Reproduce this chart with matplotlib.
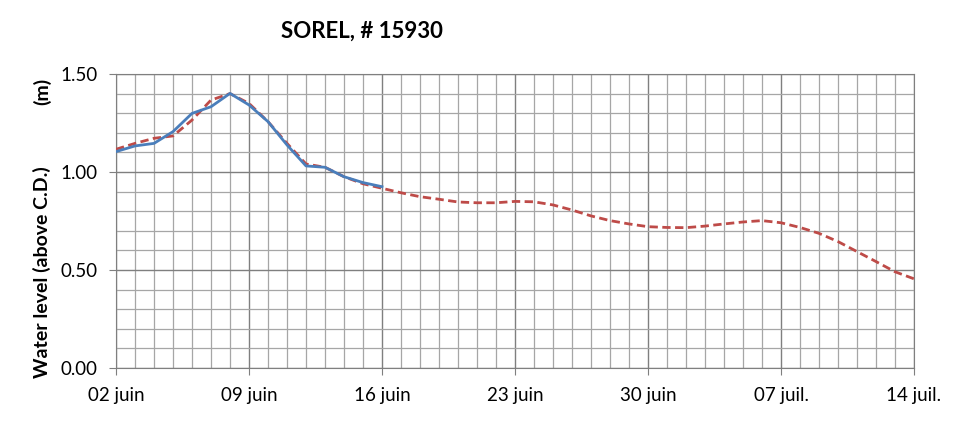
import matplotlib
matplotlib.use('Agg')
from matplotlib import pyplot as plt
from matplotlib.ticker import MultipleLocator

# days since 02 juin
obs_days = list(range(0, 15))
obs_level = [1.104, 1.133, 1.146, 1.206, 1.299, 1.333, 1.401, 1.342, 1.257,
             1.138, 1.031, 1.024, 0.976, 0.946, 0.925]

fc_days = list(range(0, 43))
fc_level = [1.116, 1.146, 1.172, 1.184, 1.265, 1.367, 1.400, 1.350, 1.257,
            1.146, 1.041, 1.024, 0.976, 0.940, 0.917, 0.894, 0.874, 0.861,
            0.847, 0.843, 0.843, 0.850, 0.848, 0.832, 0.806, 0.776, 0.752,
            0.735, 0.721, 0.717, 0.716, 0.724, 0.735, 0.745, 0.752, 0.741,
            0.717, 0.687, 0.645, 0.594, 0.543, 0.491, 0.455]

tick_days = [0, 7, 14, 21, 28, 35, 42]
tick_labels = ['02 juin', '09 juin', '16 juin', '23 juin', '30 juin',
               '07 juil.', '14 juil.']

plt.rcParams['font.family'] = ['Lato', 'DejaVu Sans']

fig = plt.figure(figsize=(9.69, 4.21), dpi=100)
ax = fig.add_axes([116 / 969, 1 - 368 / 421, 798 / 969, 294 / 421])

ax.plot(fc_days, fc_level, color='#be4b48', lw=2, dashes=(3, 1.6), zorder=3)
ax.plot(obs_days, obs_level, color='#4a7ebb', lw=2, zorder=4)

ax.set_xlim(0, 42)
ax.set_ylim(0, 1.5)
ax.set_xticks(tick_days)
ax.set_xticklabels(tick_labels)
ax.xaxis.set_minor_locator(MultipleLocator(1))
ax.set_yticks([0, 0.5, 1.0, 1.5])
ax.set_yticklabels(['0.00', '0.50', '1.00', '1.50'])
ax.yaxis.set_minor_locator(MultipleLocator(0.1))

ax.grid(which='minor', color='#a6a6a6', lw=0.9)
ax.grid(which='major', color='#7f7f7f', lw=1.0)
ax.set_axisbelow(True)

ax.tick_params(axis='both', which='major', labelsize=13.5, length=5,
               color='#7f7f7f', direction='out')
ax.tick_params(axis='x', pad=9)
ax.tick_params(axis='y', pad=8)
ax.tick_params(which='minor', length=0)
for s in ax.spines.values():
    s.set_color('#7f7f7f')

fig.text(362 / 969, 1 - 31 / 421, 'SOREL, # 15930', ha='center', va='center',
         fontsize=16, fontweight='bold')
fig.text(42 / 969, 1 - 378 / 421, 'Water level (above C.D.)', rotation=90,
         ha='center', va='bottom', fontsize=14, fontweight='bold')
fig.text(42 / 969, 1 - 78 / 421, '(m)', rotation=90,
         ha='center', va='top', fontsize=14, fontweight='bold')

plt.savefig('out.png', dpi=100)
